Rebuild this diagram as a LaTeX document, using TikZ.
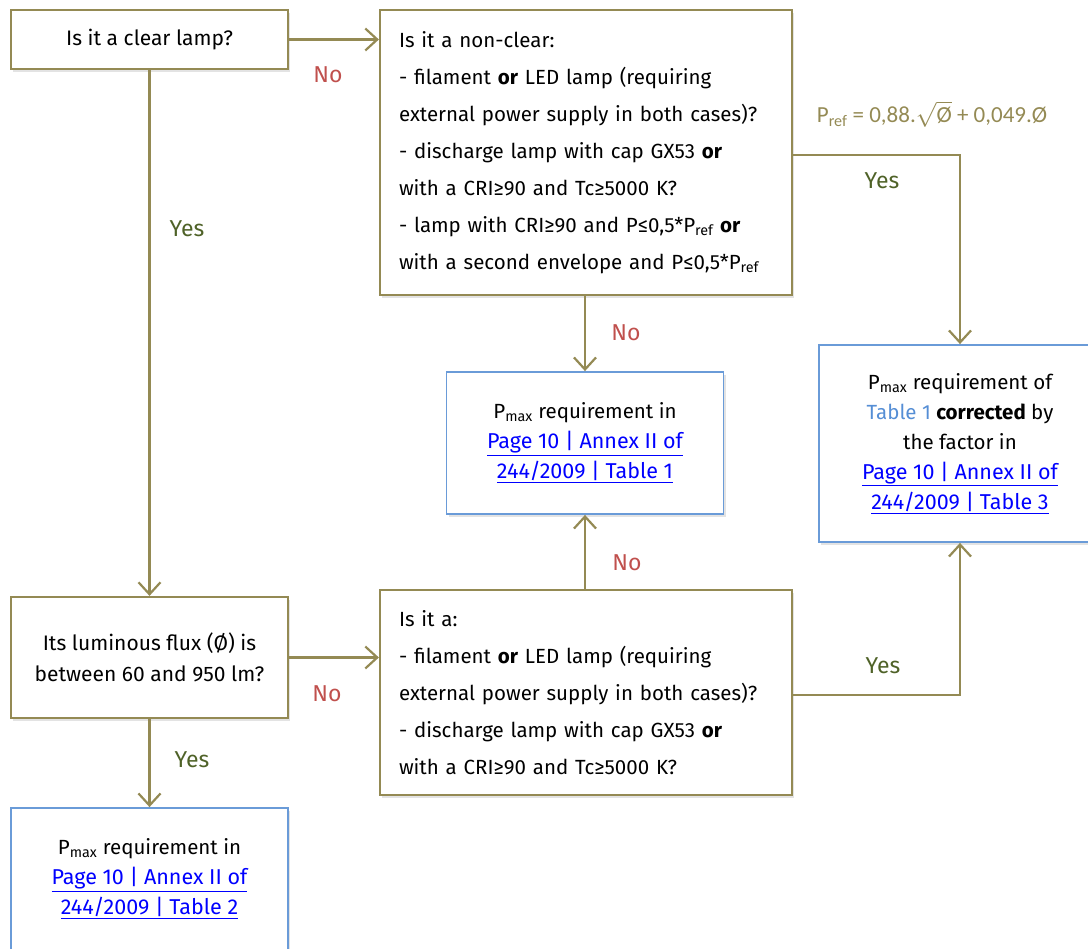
\documentclass[tikz,border=0pt]{standalone}
\usepackage{fontspec}
\setmainfont{Fira Sans}
\newfontfamily\formulafont{Carlito}
\usetikzlibrary{arrows.meta,shadows}

\definecolor{flowline}{HTML}{948A54}
\definecolor{yesgreen}{HTML}{4F6228}
\definecolor{nored}{HTML}{C0504D}
\definecolor{resultblue}{HTML}{6A9BD8}
\definecolor{tableblue}{HTML}{558ED5}
\definecolor{linkblue}{HTML}{0000FF}

\newcommand{\lnk}[1]{{\fontsize{21.5}{30}\selectfont\textcolor{linkblue}{\underline{#1}}}}
\newcommand{\pmax}{P\textsubscript{max}}
\newcommand{\pref}{P\textsubscript{ref}}

\begin{document}
\begin{tikzpicture}[x=1pt,y=-1pt,
  boxshadow/.style={drop shadow={shadow xshift=2pt,shadow yshift=-3pt,opacity=0.22}},
  qbox/.style={draw=flowline,line width=2.2pt,fill=white,inner sep=0pt,boxshadow},
  rbox/.style={draw=resultblue,line width=1.8pt,fill=white,inner sep=0pt,boxshadow,align=center,
    font=\fontsize{20.5}{30}\selectfont},
  flow/.style={draw=flowline,line width=2.2pt,-{Straight Barb[length=12pt,width=22pt]}},
  yeslbl/.style={text=yesgreen,font=\fontsize{23}{27}\selectfont},
  nolbl/.style={text=nored,font=\fontsize{23}{27}\selectfont}]
\useasboundingbox (0,0) rectangle (1088,949);

% question boxes
\node[qbox,minimum width=277pt,minimum height=59pt,font=\fontsize{21}{25}\selectfont]
  (clear) at (149.5,39.5) {Is it a clear lamp?};
\node[qbox,minimum width=412pt,minimum height=285pt,text width=374pt,align=left,
  font=\fontsize{20.5}{37}\selectfont] (nonclear) at (586,152.5)
  {Is it a non-clear:\\
   - filament \textbf{or} LED lamp (requiring\\
   external power supply in both cases)?\\
   - discharge lamp with cap GX53 \textbf{or}\\
   with a CRI≥90 and Tc≥5000 K?\\
   - lamp with CRI≥90 and P≤0,5*\pref{} \textbf{or}\\
   with a second envelope and P≤0,5*\pref};
\node[qbox,minimum width=277pt,minimum height=121pt,align=center,
  font=\fontsize{21}{31}\selectfont] (flux) at (149.5,657.5)
  {Its luminous flux (Ø) is\\ between 60 and 950 lm?};
\node[qbox,minimum width=412pt,minimum height=205pt,text width=374pt,align=left,
  font=\fontsize{20.5}{37}\selectfont] (isita) at (586,692.5)
  {Is it a:\\
   - filament \textbf{or} LED lamp (requiring\\
   external power supply in both cases)?\\
   - discharge lamp with cap GX53 \textbf{or}\\
   with a CRI≥90 and Tc≥5000 K?};

% result boxes
\node[rbox,minimum width=277pt,minimum height=142pt] (tab1) at (585,443)
  {\pmax{} requirement in\\ \lnk{Page 10 | Annex II of}\\ \lnk{244/2009 | Table 1}};
\node[rbox,minimum width=282pt,minimum height=197pt] (tab3) at (960,443.5)
  {\pmax{} requirement of\\ \textcolor{tableblue}{Table 1} \textbf{corrected} by\\ the factor in\\
   \lnk{Page 10 | Annex II of}\\ \lnk{244/2009 | Table 3}};
\node[rbox,minimum width=277pt,minimum height=142pt] (tab2) at (149.5,879)
  {\pmax{} requirement in\\ \lnk{Page 10 | Annex II of}\\ \lnk{244/2009 | Table 2}};

% connectors
\draw[flow] (clear.east) -- (clear.east -| nonclear.west);
\draw[flow] (clear.south) -- (flux.north);
\draw[flow] ([yshift=-2.5pt]nonclear.east) -| (tab3.north);
\draw[flow] (tab1.north |- nonclear.south) -- (tab1.north);
\draw[flow] (flux.east) -- (flux.east -| isita.west);
\draw[flow] (flux.south) -- (tab2.north);
\draw[flow] (tab1.south |- isita.north) -- (tab1.south);
\draw[flow] ([yshift=-2.5pt]isita.east) -| (tab3.south);

% branch labels
\node[nolbl]  (n1) at (328,75)  {No};
\node[yeslbl] (y1) at (187,229) {Yes};
\node[yeslbl] (y2) at (882,181) {Yes};
\node[nolbl]  (n2) at (626,333) {No};
\node[nolbl]  (n3) at (327,694) {No};
\node[yeslbl] (y3) at (192,760) {Yes};
\node[nolbl]  (n4) at (627,563) {No};
\node[yeslbl] (y4) at (883,666) {Yes};

% reference power formula
\node[text=flowline,font=\formulafont\fontsize{23}{27}\selectfont] (formula) at (932,114)
  {\pref{} = 0,88.$\sqrt{\hbox{Ø}}$ + 0,049.Ø};
\end{tikzpicture}
\end{document}
